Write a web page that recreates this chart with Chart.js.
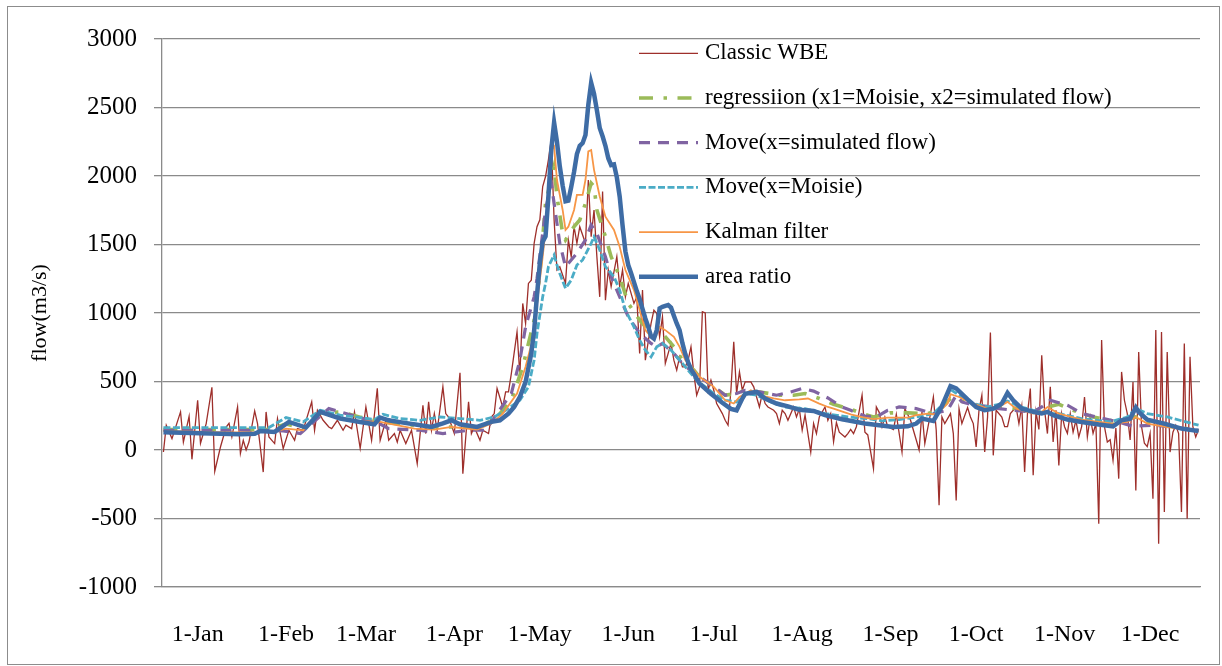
<!DOCTYPE html>
<html>
<head>
<meta charset="utf-8">
<title>flow</title>
<script src="https://cdn.jsdelivr.net/npm/chart.js@4.4.1/dist/chart.umd.min.js"></script>
<style>
  html, body { margin: 0; padding: 0; background: #fff; }
  #wrap { position: relative; width: 1222px; height: 666px; }
  #frame { position: absolute; left: 7px; top: 6px; width: 1211px; height: 657px; border: 1.5px solid #8c8c8c; }
  #c { position: absolute; left: 0; top: 0; }
</style>
</head>
<body>
<div id="wrap">
  <div id="frame"></div>
  <canvas id="c" width="1222" height="666"></canvas>
</div>
<script>
// day of year (0 = 1 Jan), month tick labels
var monthStarts = [0, 31, 59, 90, 120, 151, 181, 212, 243, 273, 304, 334];
var monthLabels = ["1-Jan","1-Feb","1-Mar","1-Apr","1-May","1-Jun","1-Jul","1-Aug","1-Sep","1-Oct","1-Nov","1-Dec"];

// Classic WBE (daily, noisy)
var wbeDay = [-12,-11,-9,-6,-5,-3,-2,0,1,3,5,6,8,10,11,12,14,15,16,17,18,20,21,23,24,25,27,28,30,32,34,35,37,40,41,42,44,46,47,49,51,52,54,55,57,59,61,63,64,66,67,69,70,71,73,75,77,79,80,81,82,83,84,86,87,88,90,92,93,95,96,97,99,100,102,103,104,105,107,108,109,110,112,113,114,115,116,117,118,119,120,121,122,123,124,125,126,127,129,130,131,132,133,134,136,137,138,139,140,141,142,143,144,145,147,148,149,150,151,153,154,155,156,157,159,160,161,162,163,164,166,167,168,169,170,171,172,173,174,175,176,177,178,179,180,181,182,184,185,186,187,188,189,190,191,192,194,195,196,197,198,199,200,202,203,204,205,206,207,209,210,211,212,213,215,216,217,218,220,221,222,223,224,225,227,228,229,230,231,233,234,235,237,238,239,240,241,242,244,245,247,248,250,251,252,253,254,255,257,258,259,260,261,262,264,265,266,267,268,270,271,272,273,274,275,276,277,278,279,280,282,283,284,285,287,288,289,290,291,292,293,294,295,296,297,298,299,300,301,302,303,304,305,306,307,308,309,310,311,312,313,314,315,316,317,318,319,320,321,322,323,324,325,326,327,328,329,330,331,332,333,334,335,336,337,338,339,340,341,342,343,344,345,346,347,348,349,350,351];
var wbeFlow = [-15,180,83,278,58,246,-68,363,49,193,458,-156,22,168,195,95,314,-24,71,0,58,285,193,-161,278,95,47,230,10,144,71,156,144,351,144,290,217,168,156,217,144,181,156,278,12,314,71,451,71,217,71,120,58,144,47,144,-99,327,120,351,144,266,144,461,266,241,120,563,-173,351,120,168,71,144,120,241,266,449,314,424,424,558,862,546,1070,924,1216,1240,1509,1630,1680,1923,1996,2118,2264,1680,1314,1338,1216,1533,1411,1630,1509,1630,1509,1971,1557,1752,1411,1118,1886,1094,1314,1192,1411,1192,1314,1118,1216,1070,1118,705,1167,656,924,1021,997,826,972,632,778,656,583,680,607,607,656,753,558,400,461,1009,1000,436,510,436,339,266,217,181,436,790,412,570,436,497,497,461,387,314,412,339,314,290,266,193,290,266,217,314,241,300,144,254,-15,193,120,241,314,217,266,60,200,130,95,120,150,120,170,400,130,110,-136,314,275,170,240,170,150,260,-15,302,217,144,73,0,278,47,266,387,144,-404,241,193,266,120,-368,302,193,310,241,193,22,290,400,-15,240,858,-39,290,241,170,170,266,314,193,320,-161,266,449,-185,280,150,692,290,120,461,58,290,-112,266,170,122,266,130,217,95,170,387,95,241,122,193,-538,802,170,58,75,-75,160,-209,570,363,266,73,497,-295,716,170,49,25,122,-355,875,-684,862,-453,716,-15,130,180,120,-453,777,-502,680,170,95,150];

// regression (x1=Moisie, x2=simulated flow)
var regDay = [-12,25,31,37,43,50,57,64,82,99,105,110,114,118,120,122,125,126,128,129,132,134,136,138,139,140,143,145,148,151,155,159,161,163,167,170,174,176,181,185,189,192,197,204,209,213,218,223,230,233,237,243,249,256,260,264,267,272,277,281,287,293,298,302,307,314,321,326,329,334,351];
var regFlow = [150,150,190,160,270,278,240,205,168,168,241,363,607,948,1290,1801,2068,1850,1582,1533,1630,1679,1801,1947,1923,1752,1557,1411,1265,1070,948,851,826,851,753,656,583,534,461,400,412,436,424,400,400,412,376,334,290,266,241,271,271,266,290,376,363,327,314,314,302,278,314,334,290,241,212,229,241,193,144];

// Move(x=simulated flow)
var simDay = [-12,25,30,36,46,52,58,64,67,78,86,95,101,105,110,113,115,118,119,122,124,125,127,129,131,133,136,138,140,143,145,148,151,155,159,161,163,167,170,174,176,181,185,189,192,197,203,208,212,216,221,226,229,234,238,242,246,252,258,263,266,268,272,277,281,286,293,296,299,305,310,316,323,328,335,342,351];
var simFlow = [144,144,140,120,302,266,230,190,156,144,120,144,144,266,412,656,899,1118,1250,1752,1947,1801,1509,1338,1387,1436,1533,1643,1582,1411,1265,1118,972,851,778,753,778,705,632,558,534,461,400,412,436,424,400,424,449,430,380,314,290,248,241,290,314,302,266,290,400,351,327,319,302,290,278,314,363,327,266,237,205,173,181,168,144];

// Move(x=Moisie)
var moisieDay = [-12,25,31,37,43,50,57,62,65,71,78,85,92,99,104,108,113,116,118,119,121,122,123,125,126,127,129,131,133,135,138,139,141,143,146,148,150,153,155,157,159,161,163,166,168,170,173,175,181,185,189,192,196,201,206,213,220,228,235,240,246,252,258,261,264,267,272,277,281,284,288,293,298,302,310,320,326,329,333,340,351];
var moisieFlow = [164,164,237,205,290,254,237,222,261,229,217,241,229,217,241,290,363,461,656,850,1118,1216,1338,1423,1350,1289,1180,1240,1350,1387,1509,1557,1460,1338,1265,1167,1021,899,802,729,680,753,778,729,680,632,558,510,412,363,351,412,400,351,314,302,266,241,229,212,222,241,266,327,442,400,339,314,334,358,319,290,266,266,229,205,241,302,266,241,181];

// Kalman filter
var kalDay = [-12,10,22,27,31,37,43,50,57,64,76,83,89,98,103,107,112,115,118,119,121,123,124,125,126,128,129,130,132,133,135,136,137,138,139,141,143,146,148,150,153,155,157,160,162,164,167,169,171,174,176,181,185,188,190,194,197,202,206,211,214,218,221,223,229,233,237,242,249,252,256,259,263,264,267,272,277,281,284,287,293,296,298,302,310,321,326,329,333,340,351];
var kalFlow = [140,128,130,135,156,144,278,228,210,205,156,149,168,149,193,266,412,607,851,1070,1411,1801,2190,2215,1971,1752,1606,1630,1752,1862,1862,1971,2180,2190,2045,1850,1703,1606,1484,1314,1167,1021,875,802,899,875,826,753,656,583,534,461,363,339,387,436,400,376,363,370,376,339,314,302,260,240,225,237,237,254,266,259,339,407,387,339,302,314,351,302,266,278,314,266,222,193,205,241,193,168,144];

// area ratio
var areaDay = [-12,1,15,20,22,27,32,38,43,50,57,62,64,67,72,77,82,86,89,92,98,103,106,109,111,113,115,117,118,119,120,121,122,123,124,125,126,127,128,129,130,131,132,133,134,135,136,137,138,139,140,141,142,143,144,145,146,147,148,149,150,151,152,153,154,155,156,157,158,159,160,161,162,163,164,165,166,167,168,169,170,171,172,173,174,176,180,184,187,189,191,192,196,199,203,207,211,216,220,226,234,244,249,252,254,258,261,264,266,270,273,276,279,281,282,284,286,289,293,296,298,300,305,310,316,321,324,327,329,330,333,339,345,351];
var areaFlow = [130,122,115,118,139,132,205,164,278,230,205,188,237,217,200,185,168,195,217,188,168,205,217,266,314,387,497,705,870,1130,1363,1520,1560,1850,2190,2390,2250,2070,1930,1815,1820,1920,2030,2160,2220,2240,2300,2520,2680,2600,2480,2350,2290,2220,2130,2080,2085,1990,1850,1640,1450,1350,1290,1225,1160,1100,1030,960,900,830,814,875,1034,1045,1052,1058,1040,980,924,875,780,700,640,590,558,485,410,345,300,290,376,410,424,376,339,319,293,285,254,224,193,168,173,193,229,212,320,466,449,370,314,290,302,325,339,417,363,302,278,266,278,254,222,205,186,173,217,229,310,278,222,193,156,139];

function pts(days, flows) {
  return days.map(function(d, i){ return { x: d, y: flows[i] }; });
}

var serif = "'Liberation Serif', 'Times New Roman', serif";
var gridGray = "#8a8a8a";

var chartdata = {
  datasets: [
    { label: "Classic WBE", data: pts(wbeDay, wbeFlow), borderColor: "#9E2F2B", borderWidth: 1.3, order: 5 },
    { label: "regressiion (x1=Moisie, x2=simulated flow)", data: pts(regDay, regFlow), borderColor: "#9BBB59", borderWidth: 3.6, borderDash: [14, 10.5, 3.5, 10.5], order: 4 },
    { label: "Move(x=simulated flow)", data: pts(simDay, simFlow), borderColor: "#8064A2", borderWidth: 3.2, borderDash: [11, 8], order: 3 },
    { label: "Move(x=Moisie)", data: pts(moisieDay, moisieFlow), borderColor: "#4BACC6", borderWidth: 2.8, borderDash: [7, 2.5], order: 2 },
    { label: "Kalman filter", data: pts(kalDay, kalFlow), borderColor: "#F79646", borderWidth: 1.8, order: 1 },
    { label: "area ratio", data: pts(areaDay, areaFlow), borderColor: "#3E6CA5", borderWidth: 4.5, order: 0 }
  ]
};

// legend drawn inside the plot, in dataset order
var insetLegend = {
  id: "insetLegend",
  afterDraw: function(chart) {
    var ctx = chart.ctx, area = chart.chartArea;
    var x0 = area.left + 477, x1 = x0 + 59;
    chart.data.datasets.forEach(function(ds, i){
      var y = area.top + 14.3 + i * 44.7;
      ctx.save();
      ctx.strokeStyle = ds.borderColor;
      ctx.lineWidth = ds.borderWidth;
      ctx.setLineDash(ds.borderDash || []);
      ctx.beginPath();
      ctx.moveTo(x0, y);
      ctx.lineTo(x1, y);
      ctx.stroke();
      ctx.setLineDash([]);
      ctx.fillStyle = "#000";
      ctx.font = "23px " + serif;
      ctx.textBaseline = "middle";
      ctx.fillText(ds.label, x1 + 7, y);
      ctx.restore();
    });
  }
};

var chart = new Chart(document.getElementById("c"), {
  type: "line",
  data: chartdata,
  plugins: [insetLegend],
  options: {
    responsive: false,
    animation: false,
    layout: { padding: { left: 0, right: 22, top: 39, bottom: 0 } },
    elements: { point: { radius: 0 }, line: { tension: 0, fill: false } },
    plugins: { legend: { display: false }, tooltip: { enabled: false } },
    scales: {
      x: {
        type: "linear",
        min: -12.5,
        max: 351.5,
        grid: { display: false },
        border: { display: true, color: gridGray, width: 1.3 },
        ticks: {
          autoSkip: false,
          maxRotation: 0,
          padding: 25,
          color: "#000",
          font: { family: serif, size: 24 },
          callback: function(v){ var k = monthStarts.indexOf(v); return k < 0 ? "" : monthLabels[k]; }
        },
        afterBuildTicks: function(s){ s.ticks = monthStarts.map(function(v){ return { value: v }; }); },
        afterFit: function(s){ s.height = 79; }
      },
      y: {
        min: -1000,
        max: 3000,
        grid: { color: gridGray, lineWidth: 1.3, tickLength: 8 },
        border: { color: gridGray, width: 1.3 },
        ticks: { stepSize: 500, padding: 17, color: "#000", font: { family: serif, size: 25 }, callback: function(v){ return String(v); } },
        title: { display: true, text: "flow(m3/s)", color: "#000", font: { family: serif, size: 22 }, padding: { top: 27, bottom: 0 } },
        afterFit: function(s){ s.width = 162; }
      }
    }
  }
});
</script>
</body>
</html>
